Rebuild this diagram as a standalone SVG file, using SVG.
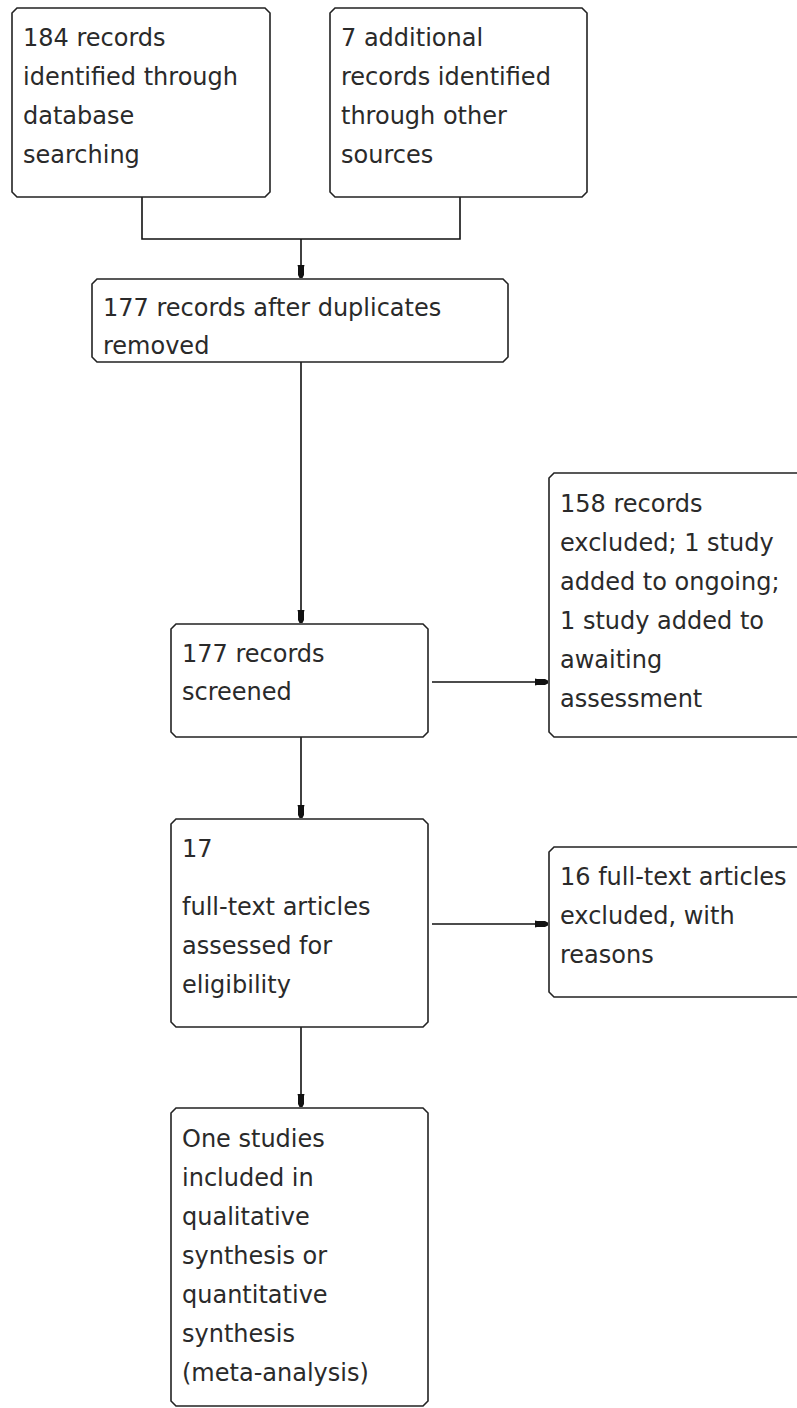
<svg xmlns="http://www.w3.org/2000/svg" width="797" height="1408" viewBox="0 0 797 1408">
<style>
.box{fill:#fff;stroke:#222;stroke-width:1.6}
.t{font-family:"DejaVu Sans",sans-serif;font-size:24px;fill:#2a2a2a}
.c{fill:none;stroke:#111;stroke-width:1.6}
</style>
<defs>
<marker id="ah" markerWidth="16" markerHeight="10" refX="14" refY="5" orient="auto" markerUnits="userSpaceOnUse">
<path d="M1,1.5 L3,2 L11,2 L14,3.5 L14,6.5 L11,8 L3,8 L1,8.5 Z" fill="#111"/>
</marker>
</defs>
<rect width="797" height="1408" fill="#fff"/>
<g id="connectors">
<path class="c" d="M142,197 V239 H460 V197"/>
<path class="c" d="M301,239 V278" marker-end="url(#ah)"/>
<path class="c" d="M301,362 V623" marker-end="url(#ah)"/>
<path class="c" d="M432,682 H548" marker-end="url(#ah)"/>
<path class="c" d="M301,737 V818" marker-end="url(#ah)"/>
<path class="c" d="M432,924 H548" marker-end="url(#ah)"/>
<path class="c" d="M301,1027 V1107" marker-end="url(#ah)"/>
</g>
<g id="n1">
<path class="box" d="M17,8 H265 L270,13 V192 L265,197 H17 L12,192 V13 Z"/>
<text class="t" x="23" y="46">184 records</text>
<text class="t" x="23" y="85">identified through</text>
<text class="t" x="23" y="124">database</text>
<text class="t" x="23" y="163">searching</text>
</g>
<g id="n2">
<path class="box" d="M335,8 H582 L587,13 V192 L582,197 H335 L330,192 V13 Z"/>
<text class="t" x="341" y="46">7 additional</text>
<text class="t" x="341" y="85">records identified</text>
<text class="t" x="341" y="124">through other</text>
<text class="t" x="341" y="163">sources</text>
</g>
<g id="n3">
<path class="box" d="M97,279 H503 L508,284 V357 L503,362 H97 L92,357 V284 Z"/>
<text class="t" x="103" y="316">177 records after duplicates</text>
<text class="t" x="103" y="354">removed</text>
</g>
<g id="n4">
<path class="box" d="M176,624 H423 L428,629 V732 L423,737 H176 L171,732 V629 Z"/>
<text class="t" x="182" y="662">177 records</text>
<text class="t" x="182" y="700">screened</text>
</g>
<g id="n5">
<path class="box" d="M554,473 H805 V737 H554 L549,732 V478 Z"/>
<text class="t" x="560" y="512">158 records</text>
<text class="t" x="560" y="551">excluded; 1 study</text>
<text class="t" x="560" y="590">added to ongoing;</text>
<text class="t" x="560" y="629">1 study added to</text>
<text class="t" x="560" y="668">awaiting</text>
<text class="t" x="560" y="707">assessment</text>
</g>
<g id="n6">
<path class="box" d="M176,819 H423 L428,824 V1022 L423,1027 H176 L171,1022 V824 Z"/>
<text class="t" x="182" y="857">17</text>
<text class="t" x="182" y="915">full-text articles</text>
<text class="t" x="182" y="954">assessed for</text>
<text class="t" x="182" y="993">eligibility</text>
</g>
<g id="n7">
<path class="box" d="M554,847 H805 V997 H554 L549,992 V852 Z"/>
<text class="t" x="560" y="885">16 full-text articles</text>
<text class="t" x="560" y="924">excluded, with</text>
<text class="t" x="560" y="963">reasons</text>
</g>
<g id="n8">
<path class="box" d="M176,1108 H423 L428,1113 V1401 L423,1406 H176 L171,1401 V1113 Z"/>
<text class="t" x="182" y="1147">One studies</text>
<text class="t" x="182" y="1186">included in</text>
<text class="t" x="182" y="1225">qualitative</text>
<text class="t" x="182" y="1264">synthesis or</text>
<text class="t" x="182" y="1303">quantitative</text>
<text class="t" x="182" y="1342">synthesis</text>
<text class="t" x="182" y="1381">(meta-analysis)</text>
</g>
</svg>
